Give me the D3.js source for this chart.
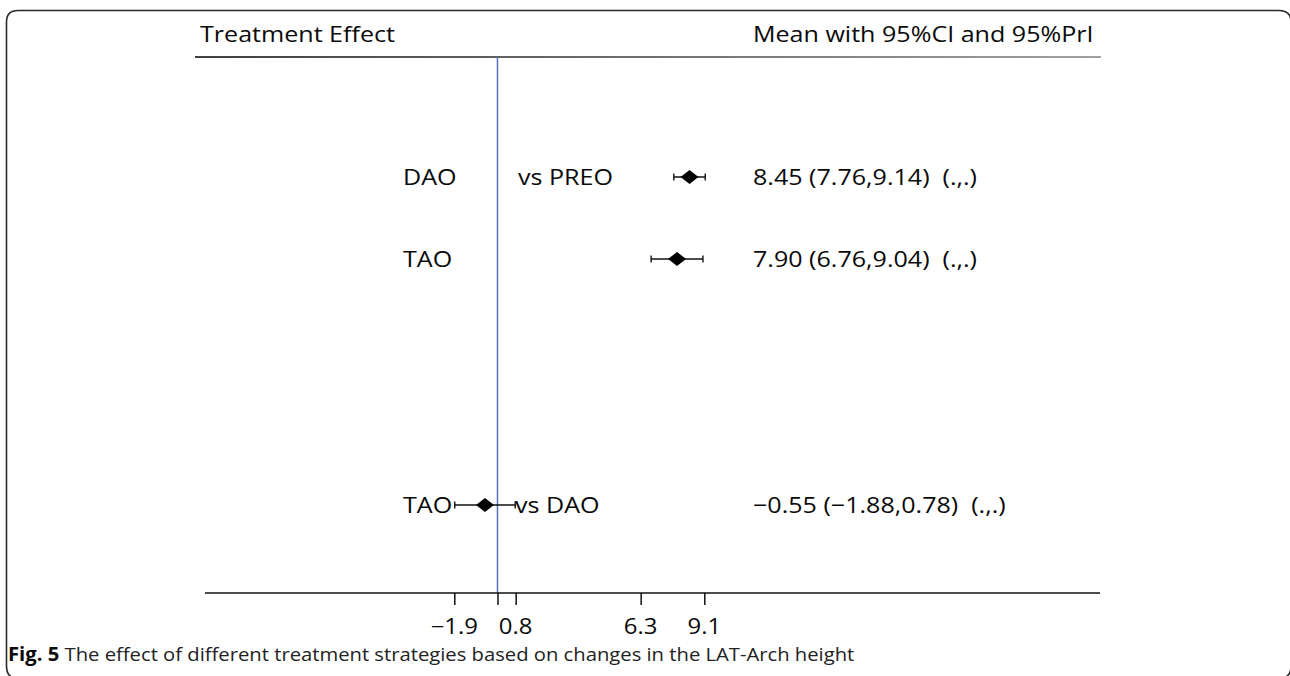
<!DOCTYPE html>
<html>
<head>
<meta charset="utf-8">
<script src="https://cdn.jsdelivr.net/npm/d3@7"></script>
<style>
  html, body { margin: 0; padding: 0; background: #fff; }
  svg { display: block; }
  text { font-family: "Open Sans", "Noto Sans", sans-serif; fill: #0a0a0a; white-space: pre; }
</style>
</head>
<body>
<svg id="chart" width="1290" height="676"></svg>
<script>
// ---- data ----
const treatments  = ["DAO", "TAO", "TAO"];
const comparators = ["vs PREO", "", "vs DAO"];
const means       = [8.45, 7.90, -0.55];
const lowers      = [7.76, 6.76, -1.88];
const uppers      = [9.14, 9.04, 0.78];
const rowSlots    = [0, 1, 4];
const tickValues  = [-1.9, 0, 0.8, 6.3, 9.1];
const tickLabels  = ["−1.9", "", "0.8", "6.3", "9.1"];
const headerLeft  = "Treatment Effect";
const headerRight = "Mean with 95%CI and 95%PrI";
const captionBold = "Fig. 5";
const captionText = " The effect of different treatment strategies based on changes in the LAT-Arch height";

// ---- layout ----
const svg = d3.select("#chart");
const x = d3.scaleLinear().domain([-1.9, 9.1]).range([454.3, 704.3]);
const y = d3.scaleLinear().domain([0, 4]).range([177, 505]);
const axisY = 593, headerY = 57;
const axisX0 = 205, axisX1 = 1100;
const fs = 22;

function stretchedText(sel, str, px, py, opts = {}) {
  const g = sel.append("g").attr("transform", `translate(${px},${py})`);
  const t = g.append("text")
    .attr("font-size", opts.size || fs)
    .attr("text-anchor", opts.anchor || "start")
    .attr("dy", opts.dy || 0)
    .text(str);
  if (opts.weight) t.attr("font-weight", opts.weight);
  return { g, t };
}

// frame (right and bottom edges sit just outside the visible area, as in the reference)
svg.append("path")
  .attr("d", "M6.5,666 L6.5,22 Q6.5,10.5 18,10.5 L1279,10.5 Q1291,10.5 1291,22 L1291,666 Q1291,678.5 1279,678.5 L18,678.5 Q6.5,678.5 6.5,666 Z")
  .attr("fill", "none").attr("stroke", "#2a2a2a").attr("stroke-width", 1.6);

// header line (gradient dark->gray)
const defs = svg.append("defs");
const grad = defs.append("linearGradient").attr("id", "hg").attr("x1", "0").attr("x2", "1");
grad.append("stop").attr("offset", "0").attr("stop-color", "#111");
grad.append("stop").attr("offset", "1").attr("stop-color", "#8a8a8a");
svg.append("rect").attr("x", 195).attr("y", headerY - 0.8).attr("width", 906).attr("height", 1.6)
  .attr("fill", "url(#hg)");

// header texts (reference figure is horizontally stretched; use one common stretch)
const hl = stretchedText(svg, headerLeft, 200, 42);
const sx = 195 / hl.t.node().getComputedTextLength();
function applyStretch(o) { o.t.attr("transform", `scale(${sx},1)`); }
applyStretch(hl);
applyStretch(stretchedText(svg, headerRight, 753, 42));

// zero line
svg.append("line")
  .attr("x1", x(0)).attr("x2", x(0)).attr("y1", headerY).attr("y2", axisY)
  .attr("stroke", "#5a6fc4").attr("stroke-width", 1.5);

// axis
svg.append("line").attr("x1", axisX0).attr("x2", axisX1).attr("y1", axisY).attr("y2", axisY)
  .attr("stroke", "#111").attr("stroke-width", 1.5);
const axis = d3.axisBottom(x).tickValues(tickValues)
  .tickFormat((d, i) => tickLabels[i]).tickSize(12).tickPadding(0);
const ag = svg.append("g").attr("transform", `translate(0,${axisY})`).call(axis);
ag.select(".domain").remove();
ag.selectAll(".tick line").attr("stroke", "#111").attr("stroke-width", 1.5);
ag.selectAll(".tick text").remove();
tickValues.forEach((v, i) => {
  if (tickLabels[i]) {
    applyStretch(stretchedText(svg, tickLabels[i], x(v), 634, { anchor: "middle", size: 21 }));
  }
});

// rows
const fmt = v => d3.format(".2f")(v).replace("-", "−");
treatments.forEach((tr, i) => {
  const ry = y(rowSlots[i]);
  applyStretch(stretchedText(svg, tr, 403, ry, { dy: "0.36em" }));
  if (comparators[i]) {
    applyStretch(stretchedText(svg, comparators[i], i === 0 ? 518 : 515, ry, { dy: "0.36em" }));
  }
  const label = `${fmt(means[i])} (${fmt(lowers[i])},${fmt(uppers[i])})  (.,.)`;
  applyStretch(stretchedText(svg, label, 753, ry, { dy: "0.36em" }));
});

// CI whiskers
const marks = svg.append("g");
marks.selectAll("line.ci").data(means).join("line").attr("class", "ci")
  .attr("x1", (d, i) => x(lowers[i])).attr("x2", (d, i) => x(uppers[i]))
  .attr("y1", (d, i) => y(rowSlots[i])).attr("y2", (d, i) => y(rowSlots[i]))
  .attr("stroke", "#111").attr("stroke-width", 1.4);
["lo", "hi"].forEach(k => {
  marks.selectAll("line.cap" + k).data(means).join("line").attr("class", "cap" + k)
    .attr("x1", (d, i) => x(k === "lo" ? lowers[i] : uppers[i]))
    .attr("x2", (d, i) => x(k === "lo" ? lowers[i] : uppers[i]))
    .attr("y1", (d, i) => y(rowSlots[i]) - 3.5).attr("y2", (d, i) => y(rowSlots[i]) + 3.5)
    .attr("stroke", "#111").attr("stroke-width", 1.4);
});
// diamonds
marks.selectAll("path.dm").data(means).join("path").attr("class", "dm")
  .attr("d", (d, i) => {
    const cx = x(d), cy = y(rowSlots[i]);
    return `M${cx - 9},${cy} L${cx},${cy - 7} L${cx + 9},${cy} L${cx},${cy + 7} Z`;
  })
  .attr("fill", "#000");

// caption
const cap = svg.append("text").attr("x", 8).attr("y", 661).attr("font-size", 19);
cap.append("tspan").attr("font-weight", "bold").text(captionBold);
cap.append("tspan").attr("fill", "#222").text(captionText);
const cw = cap.node().getComputedTextLength();
cap.attr("transform", `translate(8,0) scale(${847 / cw},1) translate(-8,0)`);
</script>
</body>
</html>
